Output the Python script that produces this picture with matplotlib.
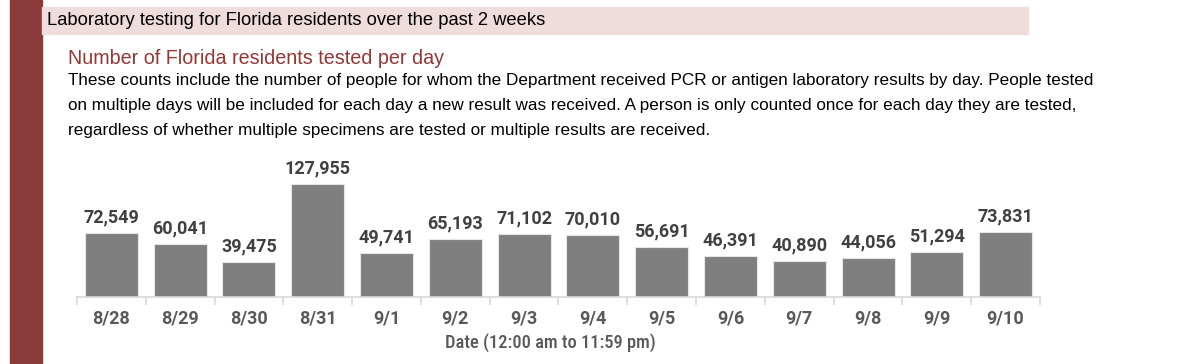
import matplotlib
matplotlib.use('Agg')
import numpy as np
from matplotlib import pyplot as plt
from matplotlib.patches import Rectangle

dates = ['8/28', '8/29', '8/30', '8/31', '9/1', '9/2', '9/3', '9/4',
         '9/5', '9/6', '9/7', '9/8', '9/9', '9/10']
tested = [72549, 60041, 39475, 127955, 49741, 65193, 71102, 70010,
          56691, 46391, 40890, 44056, 51294, 73831]

header = 'Laboratory testing for Florida residents over the past 2 weeks'
subtitle = 'Number of Florida residents tested per day'
body = ['These counts include the number of people for whom the Department received PCR or antigen laboratory results by day. People tested',
        'on multiple days will be included for each day a new result was received. A person is only counted once for each day they are tested,',
        'regardless of whether multiple specimens are tested or multiple results are received.']
xlabel = 'Date (12:00 am to 11:59 pm)'

W, H = 1200, 364
NUMF = ['Roboto', 'DejaVu Sans']
CONDF = ['Roboto Condensed', 'Roboto', 'DejaVu Sans']
TEXT = ['Liberation Sans', 'DejaVu Sans']


def fx(px):
    return px / W


def fy(py):
    return 1 - py / H


fig = plt.figure(figsize=(W / 100, H / 100), dpi=100)
fig.patch.set_facecolor('white')

# left brand bar and header band
fig.patches.append(Rectangle((fx(10), 0), fx(42) - fx(10), 1, transform=fig.transFigure,
                             color='#8b3a3a', zorder=0))
fig.patches.append(Rectangle((fx(42), fy(34)), fx(1028) - fx(42), fy(7) - fy(34),
                             transform=fig.transFigure, color='#efdcdc', zorder=0))

fig.text(fx(47), fy(20.5), header, fontsize=13.2, family=TEXT, color='black', va='center')
fig.text(fx(68), fy(58), subtitle, fontsize=14.2, family=TEXT, color='#953735', va='center')
for i, line in enumerate(body):
    fig.text(fx(68), fy(81 + 24.5 * i), line, fontsize=12.3, family=TEXT, color='black', va='center')

# bar chart
left, right, bottom, top = 77, 1040, 297, 150
ax = fig.add_axes([fx(left), fy(bottom), fx(right) - fx(left), fy(top) - fy(bottom)])
ymax = (bottom - top) / 113 * max(tested)
x = np.arange(len(dates))
ax.bar(x, tested, width=0.77, color='#7f7f7f', edgecolor='#e6e6e6', linewidth=0.8)
for xi, v in zip(x, tested):
    ax.text(xi, v + ymax * 0.045, f'{v:,}', ha='center', va='bottom', fontsize=13,
            family=NUMF, color='#404040', fontweight='semibold')

ax.set_xlim(-0.5, len(dates) - 0.5)
ax.set_ylim(0, ymax)
for s in ['top', 'right', 'left']:
    ax.spines[s].set_visible(False)
ax.spines['bottom'].set_color('#d9d9d9')
ax.spines['bottom'].set_linewidth(1.2)
ax.set_yticks([])
ax.set_xticks(np.arange(-0.5, len(dates), 1.0))
ax.set_xticklabels([])
ax.set_xticks(x, minor=True)
ax.set_xticklabels(dates, minor=True, fontsize=13, family=NUMF, color='#595959', fontweight='semibold')
ax.tick_params(axis='x', which='major', length=6, color='#d9d9d9', width=1.2)
ax.tick_params(axis='x', which='minor', length=0, pad=9)
ax.patch.set_alpha(0)

fig.text(fx(550), fy(343), xlabel, fontsize=13.2, family=CONDF, color='#595959',
         fontweight='medium', ha='center', va='center')

fig.savefig('out.png', dpi=100)
